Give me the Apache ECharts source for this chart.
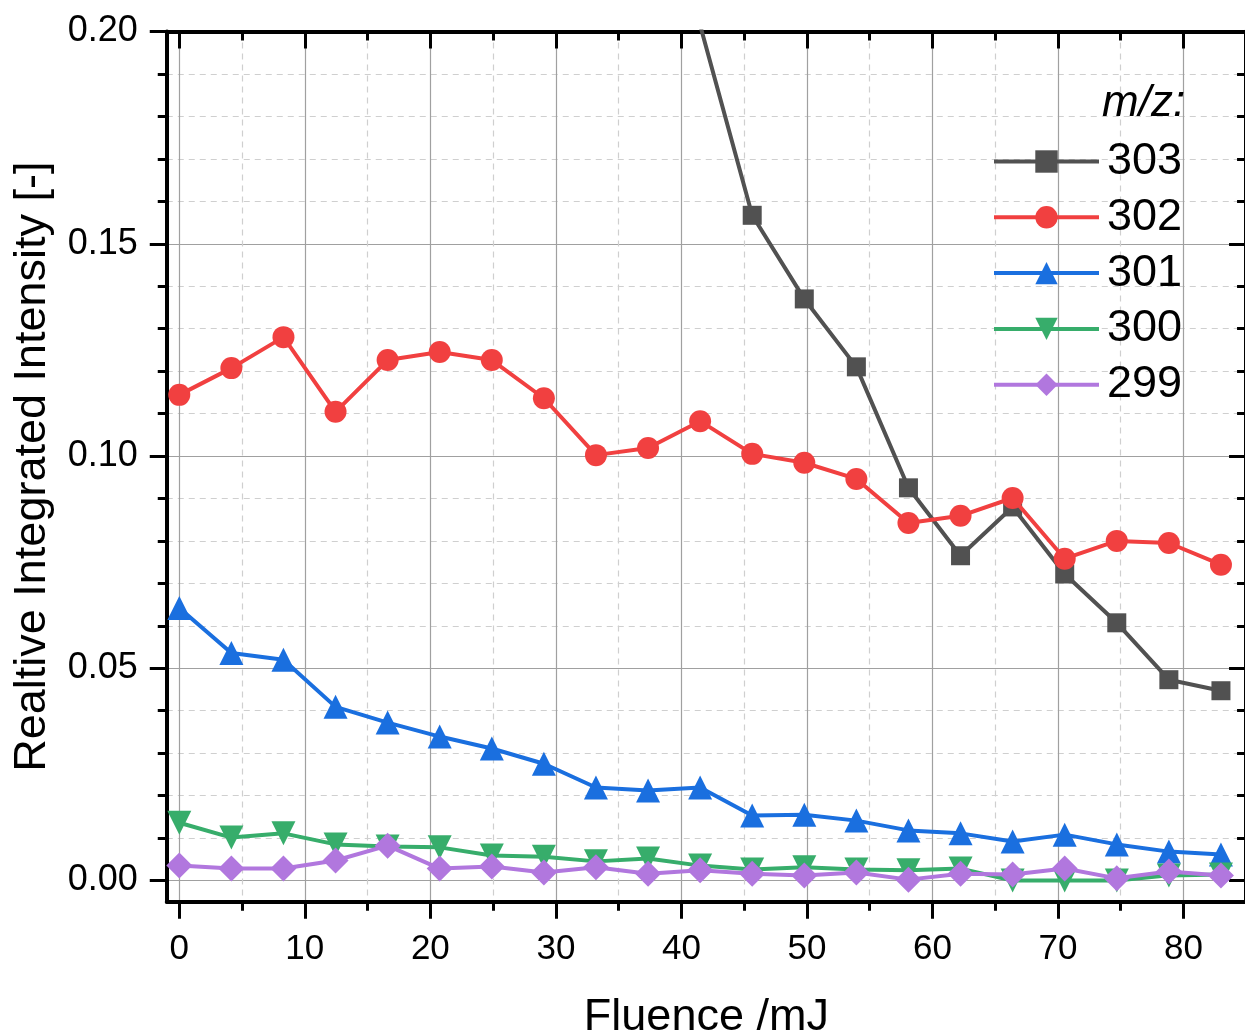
<!DOCTYPE html>
<html>
<head>
<meta charset="utf-8">
<script src="https://cdn.jsdelivr.net/npm/echarts@6/dist/echarts.min.js"></script>
<style>
  html, body { margin: 0; padding: 0; background: #fff; }
  #chart { width: 1245px; height: 1036px; }
</style>
</head>
<body>
<div id="chart"></div>
<script>
// fluence (mJ) of each spectrum
var fluence = [0, 4.15, 8.3, 12.45, 16.6, 20.75, 24.9, 29.05, 33.2, 37.35, 41.5,
               45.65, 49.8, 53.95, 58.1, 62.25, 66.4, 70.55, 74.7, 78.85, 83.0];

// relative integrated intensity per m/z
var mz303 = [null, null, null, null, null, null, null, null, null, null, 0.2015,
             0.1567, 0.1370, 0.1210, 0.0925, 0.0765, 0.0880, 0.0722, 0.0607, 0.0473, 0.0447];
var mz302 = [0.1144, 0.1207, 0.1280, 0.1104, 0.1226, 0.1245, 0.1226, 0.1136, 0.1002, 0.1019, 0.1082,
             0.1005, 0.0984, 0.0946, 0.0842, 0.0859, 0.0901, 0.0758, 0.0800, 0.0795, 0.0744];
var mz301 = [0.0642, 0.0536, 0.0520, 0.0409, 0.0372, 0.0339, 0.0311, 0.0275, 0.0219, 0.0212, 0.0219,
             0.0153, 0.0155, 0.0141, 0.0118, 0.0111, 0.0092, 0.0108, 0.0085, 0.0068, 0.0061];
var mz300 = [0.0136, 0.0101, 0.0111, 0.0085, 0.0080, 0.0078, 0.0059, 0.0056, 0.0045, 0.0052, 0.0035,
             0.0026, 0.0031, 0.0026, 0.0024, 0.0028, 0.0000, 0.0000, 0.0000, 0.0012, 0.0014];
var mz299 = [0.0035, 0.0028, 0.0028, 0.0047, 0.0082, 0.0028, 0.0033, 0.0019, 0.0031, 0.0016, 0.0024,
             0.0016, 0.0012, 0.0019, 0.0002, 0.0016, 0.0014, 0.0028, 0.0005, 0.0021, 0.0012];

var seriesNames = ['303', '302', '301', '300', '299'];
var seriesData = [mz303, mz302, mz301, mz300, mz299];
var colors = ['#515151', '#F14040', '#1A6FDF', '#37AD6B', '#B177DE'];
var symbols = ['rect', 'circle', 'triangle', 'path://M0,0 L10,0 L5,9 Z', 'diamond'];
var symbolSizes = [19, 22, 24, 24, 26];

var FONT = 'Liberation Sans';

function pairs(ys) {
    return fluence.map(function (x, i) { return [x, ys[i]]; });
}

var chart = echarts.init(document.getElementById('chart'));

var series = seriesNames.map(function (name, i) {
    return {
        name: name,
        type: 'line',
        xAxisIndex: 0,
        yAxisIndex: 0,
        data: pairs(seriesData[i]),
        symbol: symbols[i],
        symbolSize: symbolSizes[i],
        showAllSymbol: true,
        connectNulls: false,
        color: colors[i],
        lineStyle: { width: 4, color: colors[i] },
        itemStyle: { color: colors[i] },
        z: 10 + i
    };
});

var hidden = { show: false };
var tickStyle = { color: '#000', width: 3 };
var frameLine = { show: true, onZero: false, lineStyle: { color: '#000', width: 4 } };

var option = {
    backgroundColor: '#fff',
    animation: false,
    textStyle: { fontFamily: FONT },
    title: {
        text: 'm/z:',
        left: 1102,
        top: 82,
        padding: 0,
        textStyle: { fontFamily: FONT, fontSize: 44, fontStyle: 'italic', fontWeight: 'normal', color: '#000' }
    },
    legend: {
        data: seriesNames,
        orient: 'vertical',
        left: 992,
        top: 139,
        padding: 0,
        itemWidth: 105,
        itemHeight: 28,
        itemGap: 10.8,
        lineStyle: { width: 4 },
        textStyle: { fontFamily: FONT, fontSize: 45, color: '#000', lineHeight: 44, padding: [0, 0, 0, 3] }
    },
    grid: [
        // data frame
        { left: 166.75, top: 31.5, width: 1079.3, height: 870.2, outerBoundsMode: 'none' },
        // x ticks / vertical grid lines (0..80)
        { left: 179.3, top: 31.5, width: 1004.2, height: 870.2, outerBoundsMode: 'none' },
        // y ticks / horizontal grid lines (0..0.2)
        { left: 166.75, top: 31.5, width: 1079.3, height: 849, outerBoundsMode: 'none' }
    ],
    xAxis: [
        {
            gridIndex: 0, type: 'value', position: 'bottom', min: -1, max: 85,
            axisLine: frameLine,
            axisTick: hidden, axisLabel: hidden, splitLine: hidden,
            name: 'Fluence /mJ', nameLocation: 'middle', nameGap: 93,
            nameTextStyle: { fontFamily: FONT, fontSize: 45, color: '#000' }
        },
        {
            gridIndex: 0, type: 'value', position: 'top', min: -1, max: 85,
            axisLine: frameLine,
            axisTick: hidden, axisLabel: hidden, splitLine: hidden
        },
        {
            gridIndex: 1, type: 'value', position: 'bottom', min: 0, max: 80, interval: 10,
            axisLine: { show: false, onZero: false },
            axisTick: { show: true, inside: false, length: 17, lineStyle: tickStyle },
            minorTick: { show: true, splitNumber: 2, length: 9, lineStyle: tickStyle },
            axisLabel: { show: true, margin: 30, fontFamily: FONT, fontSize: 35, color: '#000' },
            splitLine: { show: true, lineStyle: { color: '#a0a0a0', width: 1.2 } },
            minorSplitLine: { show: true, lineStyle: { color: '#cfcfcf', width: 1.2, type: [6, 5] } }
        },
        {
            gridIndex: 1, type: 'value', position: 'top', min: 0, max: 80, interval: 10,
            axisLine: { show: false, onZero: false },
            axisTick: { show: true, inside: true, length: 17, lineStyle: tickStyle },
            minorTick: { show: true, splitNumber: 2, length: 9, lineStyle: tickStyle },
            axisLabel: hidden, splitLine: hidden
        },
        {
            gridIndex: 2, type: 'value', min: 0, max: 1, show: false
        }
    ],
    yAxis: [
        {
            gridIndex: 0, type: 'value', position: 'left', min: -0.005, max: 0.2,
            axisLine: frameLine,
            axisTick: hidden, axisLabel: hidden, splitLine: hidden,
            name: 'Realtive Integrated Intensity [-]', nameLocation: 'middle', nameGap: 112,
            nameTextStyle: { fontFamily: FONT, fontSize: 45, color: '#000' }
        },
        {
            gridIndex: 0, type: 'value', position: 'right', min: -0.005, max: 0.2,
            axisLine: frameLine,
            axisTick: hidden, axisLabel: hidden, splitLine: hidden
        },
        {
            gridIndex: 1, type: 'value', min: 0, max: 1, show: false
        },
        {
            gridIndex: 2, type: 'value', position: 'left', min: 0, max: 0.2, interval: 0.05,
            axisLine: { show: false, onZero: false },
            axisTick: { show: true, inside: false, length: 17, lineStyle: tickStyle },
            minorTick: { show: true, splitNumber: 5, length: 9, lineStyle: tickStyle },
            axisLabel: {
                show: true, margin: 29, fontFamily: FONT, fontSize: 36, color: '#000',
                formatter: function (v) { return v.toFixed(2); }
            },
            splitLine: { show: true, lineStyle: { color: '#a0a0a0', width: 1.2 } },
            minorSplitLine: { show: true, lineStyle: { color: '#cfcfcf', width: 1.2, type: [6, 5] } }
        },
        {
            gridIndex: 2, type: 'value', position: 'right', min: 0, max: 0.2, interval: 0.05,
            axisLine: { show: false, onZero: false },
            axisTick: { show: true, inside: true, length: 17, lineStyle: tickStyle },
            minorTick: { show: true, splitNumber: 5, length: 9, lineStyle: tickStyle },
            axisLabel: hidden, splitLine: hidden
        }
    ],
    series: series
};

chart.setOption(option);
</script>
</body>
</html>
